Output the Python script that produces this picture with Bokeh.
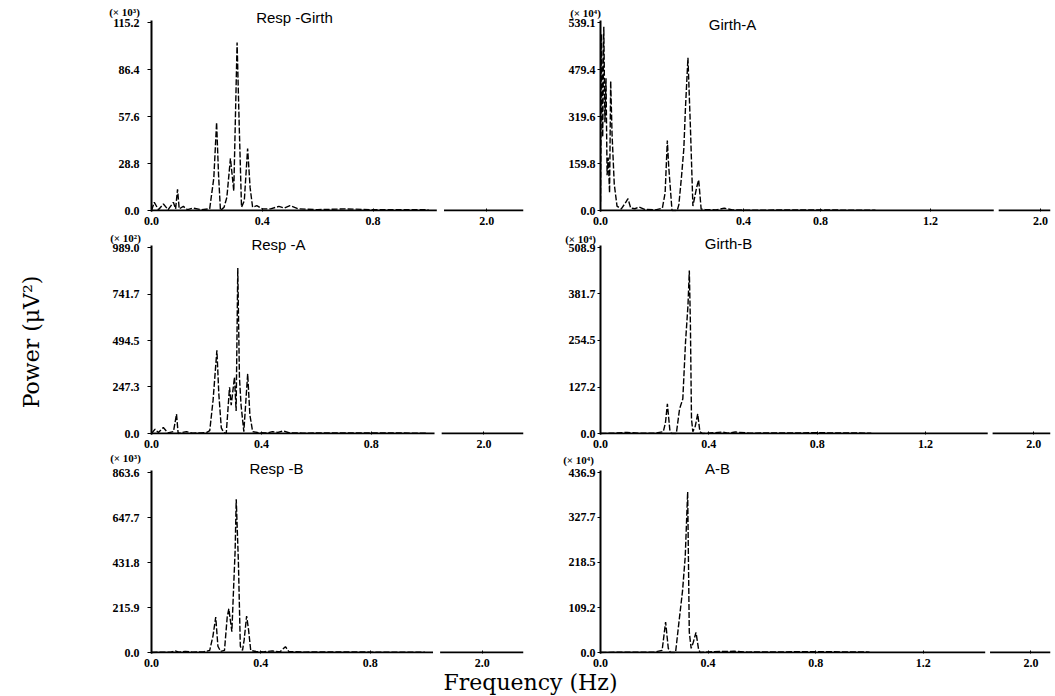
import math
from bokeh.plotting import figure
from bokeh.layouts import row, column
from bokeh.models import Range1d, FixedTicker, Label
from bokeh.embed import file_html
from bokeh.resources import INLINE

# ---------------- data ----------------
resp_girth_freq = [0.000, 0.010, 0.025, 0.043, 0.060, 0.079, 0.087, 0.094, 0.100, 0.115, 0.130, 0.150, 0.180, 0.210,
                   0.225, 0.235, 0.242, 0.249, 0.262, 0.272, 0.285, 0.297, 0.309, 0.317, 0.325, 0.335, 0.347, 0.356,
                   0.365, 0.380, 0.400, 0.430, 0.460, 0.480, 0.500, 0.530, 0.600, 0.700, 0.800, 1.000]
resp_girth_power = [0.0, 5.0, 0.5, 4.0, 0.5, 5.0, 1.0, 13.0, 1.0, 2.5, 0.5, 1.5, 0.5, 1.0,
                    20.0, 54.0, 22.0, 0.0, 2.0, 8.0, 32.0, 12.0, 103.0, 50.0, 2.0, 6.0, 38.0, 14.0,
                    2.0, 3.0, 1.0, 1.0, 2.5, 1.5, 3.0, 1.0, 0.5, 1.0, 0.5, 0.5]
resp_girth_yvals = [0.0, 28.8, 57.6, 86.4, 115.2]
resp_girth_ylabels = ["0.0", "28.8", "57.6", "86.4", "115.2"]

girth_a_freq = [0.000, 0.004, 0.008, 0.012, 0.016, 0.020, 0.024, 0.028, 0.033, 0.037, 0.042, 0.050, 0.060, 0.075,
                0.090, 0.100, 0.110, 0.125, 0.140, 0.160, 0.200, 0.225, 0.235, 0.243, 0.248, 0.260, 0.279, 0.285,
                0.295, 0.303, 0.309, 0.318, 0.327, 0.336, 0.350, 0.357, 0.366, 0.380, 0.420, 0.450, 0.480, 0.550,
                0.700, 1.000]
girth_a_power = [30, 600, 250, 625, 300, 450, 120, 180, 60, 440, 260, 90, 15, 5,
                 25, 40, 8, 6, 12, 4, 2, 8, 60, 238, 150, 0, 0, 20,
                 120, 210, 350, 519, 282, 15, 80, 104, 5, 3, 2, 8, 2, 1,
                 2, 1]
girth_a_yvals = [0.0, 159.8, 319.6, 479.4, 639.2]
girth_a_ylabels = ["0.0", "159.8", "319.6", "479.4", "539.1"]

resp_a_freq = [0.000, 0.013, 0.025, 0.043, 0.060, 0.080, 0.091, 0.097, 0.110, 0.127, 0.150, 0.180, 0.200, 0.212,
               0.224, 0.238, 0.245, 0.254, 0.263, 0.272, 0.284, 0.290, 0.302, 0.308, 0.314, 0.320, 0.326, 0.336,
               0.350, 0.358, 0.368, 0.386, 0.420, 0.440, 0.460, 0.480, 0.500, 0.550, 0.700, 1.000]
resp_a_power = [0, 23, 5, 32, 3, 10, 103, 0, 5, 10, 2, 3, 5, 15,
                176, 443, 210, 30, 5, 0, 246, 150, 300, 120, 880, 300, 150, 10,
                317, 100, 10, 5, 3, 10, 6, 14, 4, 2, 3, 2]
resp_a_yvals = [0.0, 247.3, 494.5, 741.7, 989.0]
resp_a_ylabels = ["0.0", "247.3", "494.5", "741.7", "989.0"]

girth_b_freq = [0.000, 0.050, 0.098, 0.140, 0.200, 0.232, 0.240, 0.247, 0.256, 0.262, 0.280, 0.292, 0.304, 0.314,
                0.323, 0.328, 0.332, 0.336, 0.341, 0.350, 0.359, 0.367, 0.377, 0.420, 0.450, 0.470, 0.498, 0.550,
                0.800, 1.000]
girth_b_power = [0, 1, 3, 1, 1, 5, 30, 81, 10, 0, 0, 67, 95, 250,
                 350, 446, 300, 40, 5, 20, 54, 5, 0, 2, 4, 1, 4, 1,
                 2, 1]
girth_b_yvals = [0.0, 127.2, 254.5, 381.7, 508.9]
girth_b_ylabels = ["0.0", "127.2", "254.5", "381.7", "508.9"]

resp_b_freq = [0.000, 0.040, 0.070, 0.087, 0.100, 0.123, 0.150, 0.190, 0.213, 0.225, 0.235, 0.243, 0.253, 0.267,
               0.277, 0.283, 0.294, 0.301, 0.306, 0.310, 0.318, 0.325, 0.333, 0.339, 0.348, 0.355, 0.363, 0.382,
               0.410, 0.442, 0.470, 0.490, 0.502, 0.520, 0.560, 0.700, 0.800, 1.000]
resp_b_power = [0, 2, 1, 8, 2, 5, 2, 3, 10, 80, 170, 30, 5, 10,
                170, 210, 100, 330, 490, 735, 430, 30, 10, 60, 175, 110, 10, 5,
                3, 8, 3, 28, 5, 4, 2, 3, 2, 1]
resp_b_yvals = [0.0, 215.9, 431.8, 647.7, 863.6]
resp_b_ylabels = ["0.0", "215.9", "431.8", "647.7", "863.6"]

a_b_freq = [0.000, 0.100, 0.200, 0.229, 0.242, 0.252, 0.260, 0.279, 0.291, 0.305, 0.315, 0.324, 0.330, 0.337,
            0.345, 0.355, 0.364, 0.370, 0.420, 0.497, 0.550, 0.800, 1.000]
a_b_power = [0, 1, 1, 5, 74, 10, 0, 0, 70, 150, 233, 390, 50, 10,
             25, 49, 10, 0, 2, 3, 1, 2, 1]
a_b_yvals = [0.0, 109.2, 218.5, 327.7, 436.9]
a_b_ylabels = ["0.0", "109.2", "218.5", "327.7", "436.9"]

# broken frequency axis: positions (in drawn units) of the tick labels
left_xtick_pos = [0.0, 0.4, 0.8, 1.21]
left_xtick_labels = ["0.0", "0.4", "0.8", "2.0"]
right_xtick_pos = [0.0, 0.4, 0.8, 1.2, 1.6]
right_xtick_labels = ["0.0", "0.4", "0.8", "1.2", "2.0"]
girth_a_xtick_pos = [0.0, 0.52, 0.8, 1.2, 1.6]
left_break = (1.03, 1.056)
right_break = (1.43, 1.448)

titles = ["Resp -Girth", "Girth-A", "Resp -A", "Girth-B", "Resp -B", "A-B"]
multipliers = ["(× 10³)", "(× 10⁴)", "(× 10²)", "(× 10⁴)", "(× 10³)", "(× 10⁴)"]
y_title = "Power  (μV²)"
x_title = "Frequency (Hz)"

# ---------------- layout geometry (page pixels) ----------------
W, H = 1055, 696
COL_LEFT = [0, 530]
COL_W = [530, 525]
FRAME_RIGHT = [523, 1050]
PX_PER_HZ = [277, 275]
ROW_TOP = [0, 228, 451]
ROW_H = [228, 223, 221]
ZERO_Y = [210, 433, 652]
TOP_Y = [22, 247, 472]
AXIS_X = {(0, 0): 151, (0, 1): 148, (0, 2): 146, (1, 0): 600, (1, 1): 593, (1, 2): 590}
TITLE_XY = [(294, 17), (732, 24), (278, 244), (728, 243), (276, 468), (717, 468)]
MULT_XY = [(124, 11), (585, 12), (125, 237), (580, 238), (125, 457), (578, 459)]

SERIF = "Liberation Serif"
SANS = "Liberation Sans"


def panel(c, r, freq, power, yvals, ylabels, xpos, xlabels, brk):
    ax = AXIS_X[(c, r)]
    ppx = PX_PER_HZ[c]
    top = yvals[-1]
    ppu = (ZERO_Y[r] - TOP_Y[r]) / top
    bl = ax - COL_LEFT[c]
    fw = FRAME_RIGHT[c] - ax
    br = COL_W[c] - bl - fw
    bt = TOP_Y[r] - 2 - ROW_TOP[r]
    fh = ZERO_Y[r] + 1 - (TOP_Y[r] - 2)
    bb = ROW_H[r] - bt - fh
    x_end = fw / ppx
    p = figure(width=COL_W[c], height=ROW_H[r],
               x_range=Range1d(0, x_end), y_range=Range1d(-1 / ppu, top + 2 / ppu),
               output_backend="svg", toolbar_location=None,
               min_border_left=bl, min_border_right=br, min_border_top=bt, min_border_bottom=bb)
    p.outline_line_color = None
    p.grid.visible = False
    p.background_fill_color = None
    p.border_fill_color = None

    # spectrum
    p.line(freq, power, line_color="black", line_width=1.4, line_dash="6 2")
    # broken baseline (x axis)
    p.line([0, brk[0]], [0, 0], line_color="black", line_width=1.8)
    p.line([brk[1], x_end], [0, 0], line_color="black", line_width=1.8)

    xa = p.xaxis[0]
    xa.ticker = FixedTicker(ticks=xpos)
    xa.major_label_overrides = {pos: lab for pos, lab in zip(xpos, xlabels)}
    xa.axis_line_color = None
    xa.major_tick_in = 3
    xa.major_tick_out = 0
    xa.minor_tick_line_color = None
    xa.major_label_standoff = 5
    xa.major_label_text_font = SERIF
    xa.major_label_text_font_style = "bold"
    xa.major_label_text_font_size = "12px"
    xa.major_label_text_color = "black"

    ya = p.yaxis[0]
    ya.ticker = FixedTicker(ticks=yvals)
    ya.major_label_overrides = {v: lab for v, lab in zip(yvals, ylabels)}
    ya.axis_line_width = 2
    ya.axis_line_color = "black"
    ya.major_tick_in = 0
    ya.major_tick_out = 4 if c == 0 else 3
    ya.minor_tick_line_color = None
    ya.major_label_standoff = 8 if c == 0 else 2
    ya.major_label_text_font = SERIF
    ya.major_label_text_font_style = "bold"
    ya.major_label_text_font_size = "12px"
    ya.major_label_text_color = "black"
    return p


p1 = panel(0, 0, resp_girth_freq, resp_girth_power, resp_girth_yvals, resp_girth_ylabels,
           left_xtick_pos, left_xtick_labels, left_break)
p2 = panel(1, 0, girth_a_freq, girth_a_power, girth_a_yvals, girth_a_ylabels,
           girth_a_xtick_pos, right_xtick_labels, right_break)
p3 = panel(0, 1, resp_a_freq, resp_a_power, resp_a_yvals, resp_a_ylabels,
           left_xtick_pos, left_xtick_labels, left_break)
p4 = panel(1, 1, girth_b_freq, girth_b_power, girth_b_yvals, girth_b_ylabels,
           right_xtick_pos, right_xtick_labels, right_break)
p5 = panel(0, 2, resp_b_freq, resp_b_power, resp_b_yvals, resp_b_ylabels,
           left_xtick_pos, left_xtick_labels, left_break)
p6 = panel(1, 2, a_b_freq, a_b_power, a_b_yvals, a_b_ylabels,
           right_xtick_pos, right_xtick_labels, right_break)

# ---------------- background sheet holding the free texts ----------------
bg = figure(width=W, height=H, x_range=Range1d(0, W), y_range=Range1d(H, 0),
            output_backend="svg", toolbar_location=None, x_axis_type=None, y_axis_type=None,
            min_border=0, title=None)
bg.outline_line_color = None
bg.grid.visible = False
bg.background_fill_color = "white"
bg.border_fill_color = "white"

for t, (tx, ty) in zip(titles, TITLE_XY):
    bg.add_layout(Label(x=tx, y=ty, text=t, text_align="center", text_baseline="middle",
                        text_font=SANS, text_font_size="15px", text_color="black"))
for m, (mx, my) in zip(multipliers, MULT_XY):
    bg.add_layout(Label(x=mx, y=my, text=m, text_align="center", text_baseline="middle",
                        text_font=SERIF, text_font_size="11px", text_font_style="bold", text_color="black"))
bg.add_layout(Label(x=31, y=338, text=y_title, angle=math.pi / 2,
                    text_align="center", text_baseline="middle",
                    text_font="DejaVu Serif", text_font_size="22px", text_color="black"))
bg.add_layout(Label(x=530, y=682, text=x_title, text_align="center", text_baseline="middle",
                    text_font="DejaVu Serif", text_font_size="22px", text_color="black"))

panels = row(column(p1, p3, p5), column(p2, p4, p6))
panels.margin = (-H, 0, 0, 0)
layout = column(bg, panels)

open("out.html", "w").write(file_html(layout, INLINE))
